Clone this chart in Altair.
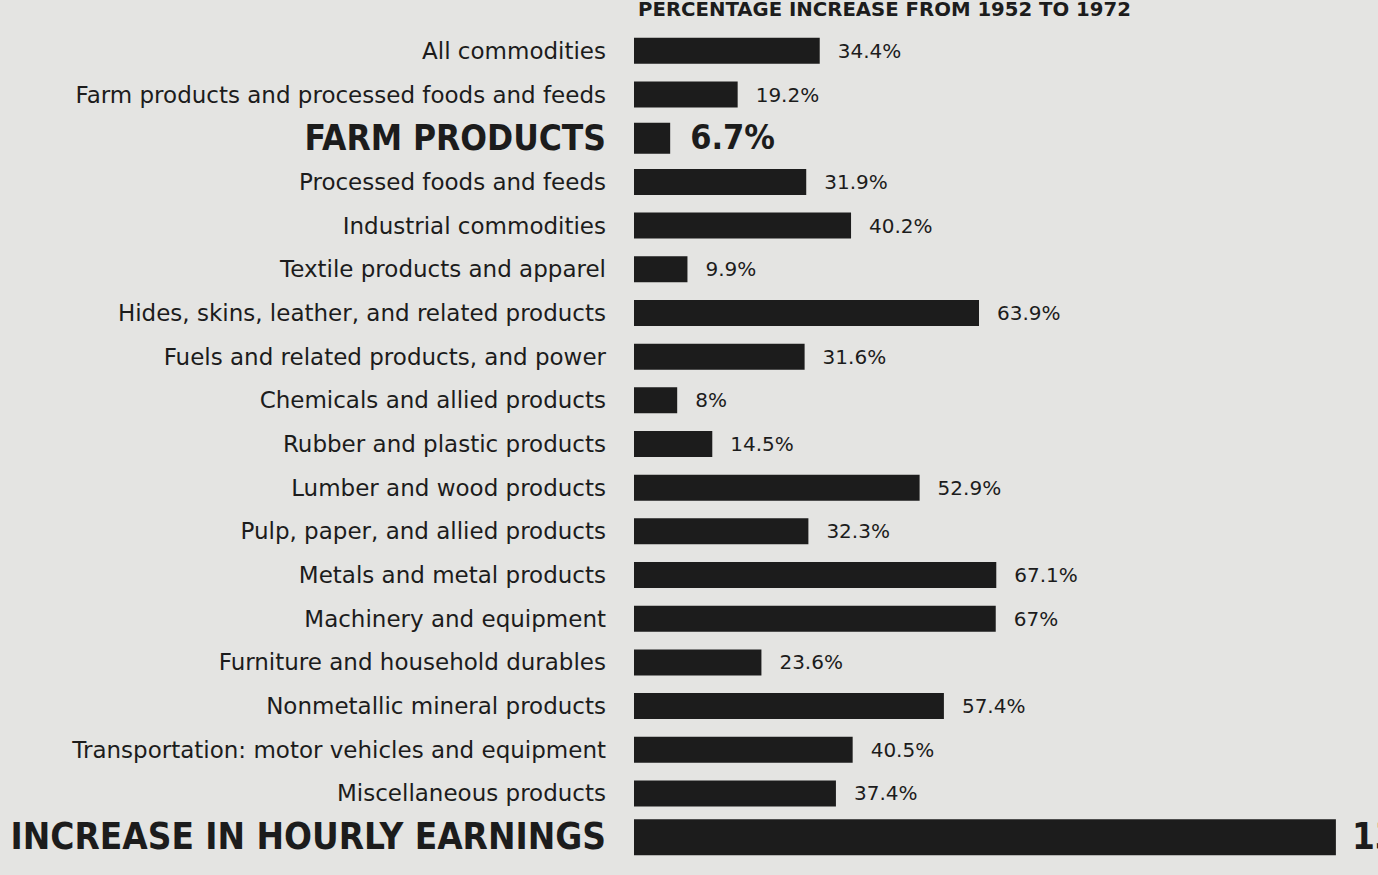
import altair as alt
import pandas as pd

categories = [
    "All commodities",
    "Farm products and processed foods and feeds",
    "FARM PRODUCTS",
    "Processed foods and feeds",
    "Industrial commodities",
    "Textile products and apparel",
    "Hides, skins, leather, and related products",
    "Fuels and related products, and power",
    "Chemicals and allied products",
    "Rubber and plastic products",
    "Lumber and wood products",
    "Pulp, paper, and allied products",
    "Metals and metal products",
    "Machinery and equipment",
    "Furniture and household durables",
    "Nonmetallic mineral products",
    "Transportation: motor vehicles and equipment",
    "Miscellaneous products",
    "INCREASE IN HOURLY EARNINGS",
]
values = [34.4, 19.2, 6.7, 31.9, 40.2, 9.9, 63.9, 31.6, 8, 14.5, 52.9, 32.3,
          67.1, 67, 23.6, 57.4, 40.5, 37.4, 130]
value_labels = ["34.4%", "19.2%", "6.7%", "31.9%", "40.2%", "9.9%", "63.9%",
                "31.6%", "8%", "14.5%", "52.9%", "32.3%", "67.1%", "67%",
                "23.6%", "57.4%", "40.5%", "37.4%", "130%"]
kinds = ["normal", "normal", "emphasis"] + ["normal"] * 15 + ["headline"]
title_text = "PERCENTAGE INCREASE FROM 1952 TO 1972"

df = pd.DataFrame({"category": categories, "value": values,
                   "label": value_labels, "kind": kinds})

INK = "#1c1c1c"
BG = "#e4e4e2"
FONT = "DejaVu Sans"
NARROW = "Liberation Sans Narrow, DejaVu Sans Condensed, Liberation Sans"

y_enc = alt.Y("category:N", sort=categories, axis=None,
              scale=alt.Scale(paddingInner=0, paddingOuter=0))
x_scale = alt.Scale(domain=[0, 137.8], nice=False, zero=True)

base = alt.Chart(df)

bars = base.mark_bar(color=INK, cornerRadius=0).encode(
    x=alt.X("value:Q", scale=x_scale, axis=None),
    y=y_enc,
    size=alt.Size("kind:N", scale=alt.Scale(domain=["normal", "emphasis", "headline"],
                                            range=[26, 36, 42]), legend=None),
)

def names(kind, size, font, weight, dx=-28):
    return base.transform_filter(alt.datum.kind == kind).mark_text(
        align="right", baseline="middle", font=font, fontSize=size,
        fontWeight=weight, color=INK, dy=1
    ).encode(x=alt.value(dx), y=y_enc, text="category:N")

def vals(kind, size, font, weight, dx):
    return base.transform_filter(alt.datum.kind == kind).mark_text(
        align="left", baseline="middle", font=font, fontSize=size,
        fontWeight=weight, color=INK, dx=dx, dy=1
    ).encode(x=alt.X("value:Q", scale=x_scale, axis=None), y=y_enc, text="label:N")

title = alt.Chart(pd.DataFrame({"t": [title_text]})).mark_text(
    align="left", baseline="alphabetic", font=FONT, fontSize=19.7,
    fontWeight="bold", color=INK
).encode(x=alt.value(4), y=alt.value(-13), text="t:N")

chart = alt.layer(
    bars,
    names("normal", 23, FONT, "normal"),
    names("emphasis", 35, NARROW, "bold"),
    names("headline", 36.6, NARROW, "bold"),
    vals("normal", 20, FONT, "normal", 18),
    vals("emphasis", 34, NARROW, "bold", 20),
    vals("headline", 36.6, NARROW, "bold", 16),
    title,
).properties(
    width=744, height=830,
    autosize=alt.AutoSizeParams(type="none"),
    padding={"left": 634, "top": 29, "right": 0, "bottom": 16},
    background=BG,
).configure_view(stroke=None)

chart.save("out.html", embed_options={"renderer": "svg", "actions": False})
